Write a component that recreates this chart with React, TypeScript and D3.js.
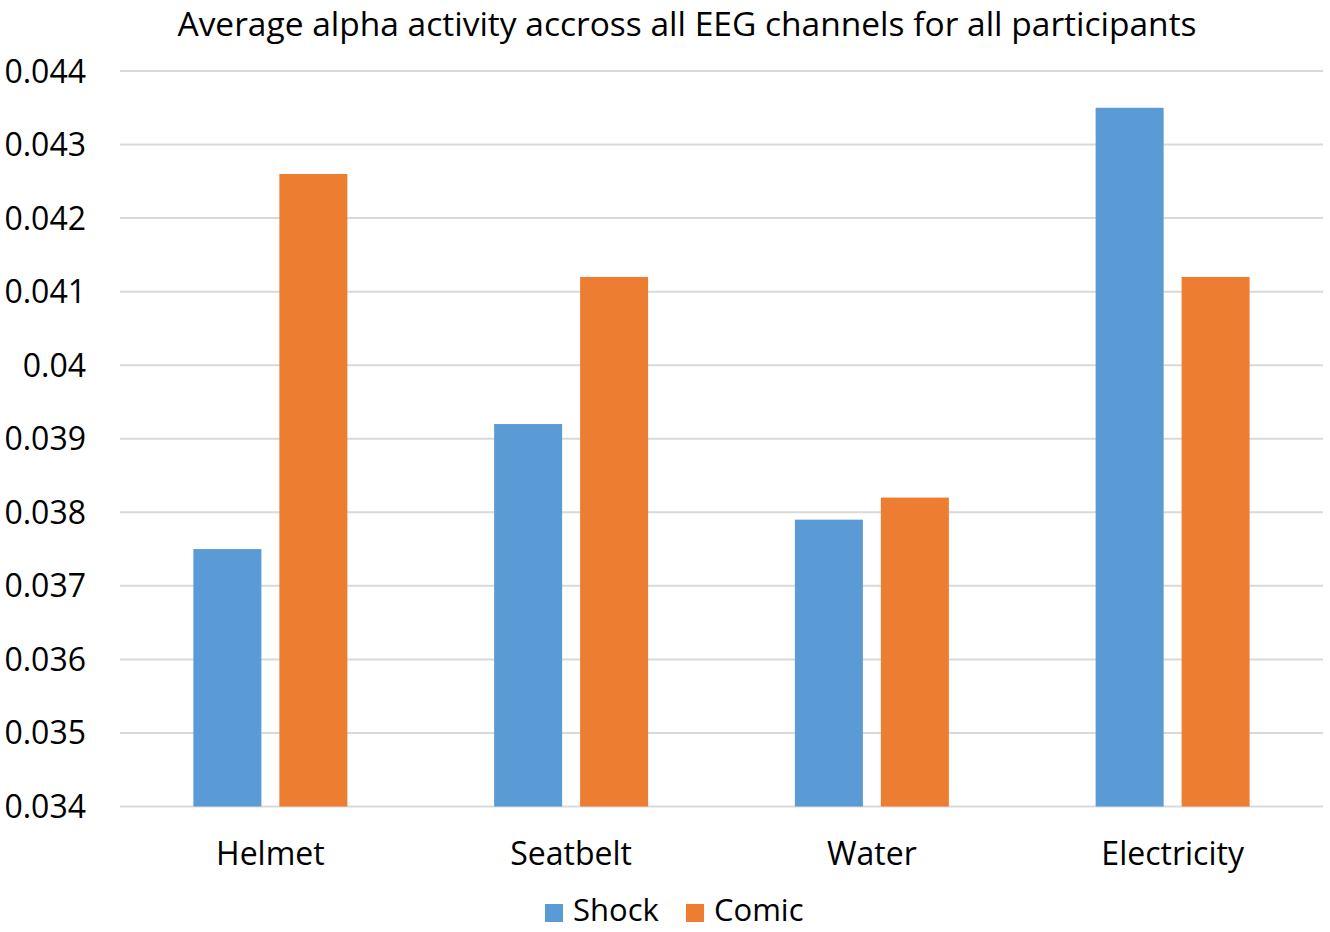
import React, { useEffect, useRef } from 'react';
import * as d3 from 'd3';

const categories = ['Helmet', 'Seatbelt', 'Water', 'Electricity'];
const seriesNames = ['Shock', 'Comic'];
const shockValues = [0.0375, 0.0392, 0.0379, 0.0435];
const comicValues = [0.0426, 0.0412, 0.0382, 0.0412];
const yTicks = [0.034, 0.035, 0.036, 0.037, 0.038, 0.039, 0.04, 0.041, 0.042, 0.043, 0.044];
const colors = ['#5B9BD5', '#ED7D31'];

const FONT = '"Open Sans", "Noto Sans", sans-serif';

const App: React.FC = () => {
  const svgRef = useRef<SVGSVGElement>(null);

  useEffect(() => {
    if (!svgRef.current) return;
    const svg = d3.select(svgRef.current);
    svg.selectAll('*').remove();

    const width = 1330;
    const height = 932;
    const left = 120;
    const right = 1323;
    const top = 71;
    const bottom = 806.5;

    svg.attr('width', width).attr('height', height);
    svg.append('rect').attr('width', width).attr('height', height).attr('fill', '#fff');

    const y = d3.scaleLinear().domain([0.034, 0.044]).range([bottom, top]);

    const x0 = d3.scaleBand<string>()
      .domain(categories)
      .range([left, right])
      .paddingInner(0.488)
      .paddingOuter(0.244);

    const x1 = d3.scaleBand<string>()
      .domain(seriesNames)
      .range([0, x0.bandwidth()])
      .paddingInner(0.209)
      .paddingOuter(0);

    // gridlines
    svg.append('g')
      .selectAll('line')
      .data(yTicks)
      .enter()
      .append('line')
      .attr('x1', left)
      .attr('x2', right)
      .attr('y1', d => y(d))
      .attr('y2', d => y(d))
      .attr('stroke', '#D9D9D9')
      .attr('stroke-width', 2);

    // y tick labels
    svg.append('g')
      .selectAll('text')
      .data(yTicks)
      .enter()
      .append('text')
      .attr('x', 86)
      .attr('y', d => y(d))
      .attr('dy', '0.36em')
      .attr('text-anchor', 'end')
      .style('font-family', FONT)
      .style('font-size', '32px')
      .style('fill', '#000')
      .text(d => d3.format('')(d));

    // bars
    const rows = categories.map((c, i) => ({ category: c, values: [shockValues[i], comicValues[i]] }));
    const groups = svg.append('g')
      .selectAll('g')
      .data(rows)
      .enter()
      .append('g')
      .attr('transform', d => `translate(${x0(d.category)},0)`);

    groups.selectAll('rect')
      .data(d => d.values.map((v, j) => ({ name: seriesNames[j], value: v, color: colors[j] })))
      .enter()
      .append('rect')
      .attr('x', d => x1(d.name) as number)
      .attr('width', x1.bandwidth())
      .attr('y', d => y(d.value))
      .attr('height', d => y(0.034) - y(d.value))
      .attr('fill', d => d.color);

    // category labels
    svg.append('g')
      .selectAll('text')
      .data(categories)
      .enter()
      .append('text')
      .attr('x', d => (x0(d) as number) + x0.bandwidth() / 2)
      .attr('y', 853)
      .attr('dy', '0.36em')
      .attr('text-anchor', 'middle')
      .style('font-family', FONT)
      .style('font-size', '32px')
      .style('fill', '#000')
      .text(d => d);

    // title
    svg.append('text')
      .attr('x', 687)
      .attr('y', 36)
      .attr('text-anchor', 'middle')
      .style('font-family', FONT)
      .style('font-size', '33.5px')
      .style('fill', '#000')
      .text('Average alpha activity accross all EEG channels for all participants');

    // legend
    const legendItems = [
      { name: 'Shock', color: colors[0], x: 545 },
      { name: 'Comic', color: colors[1], x: 686 },
    ];
    const legend = svg.append('g');
    legendItems.forEach(item => {
      legend.append('rect')
        .attr('x', item.x)
        .attr('y', 904)
        .attr('width', 18)
        .attr('height', 18)
        .attr('fill', item.color);
      legend.append('text')
        .attr('x', item.x + 28)
        .attr('y', 921)
        .style('font-family', FONT)
        .style('font-size', '31px')
        .style('fill', '#000')
        .text(item.name);
    });
  }, []);

  return (
    <div style={{ position: 'absolute', left: 0, top: 0 }}>
      <svg ref={svgRef} style={{ display: 'block' }}></svg>
    </div>
  );
};

export default App;
